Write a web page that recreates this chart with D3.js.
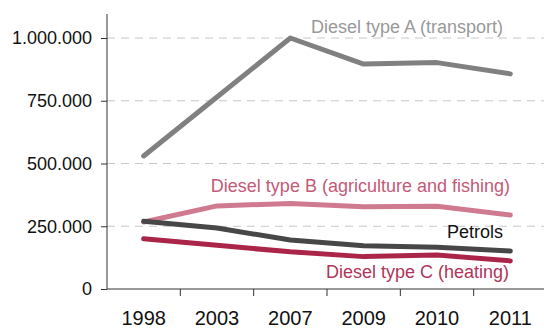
<!DOCTYPE html>
<html><head><meta charset="utf-8">
<script src="https://cdn.jsdelivr.net/npm/d3@7"></script>
<style>body{margin:0;background:#fff}svg{display:block;font-family:"Liberation Sans",Arial,sans-serif}</style>
</head><body><svg id="c" width="544" height="329"></svg>
<script>
const years = ["1998","2003","2007","2009","2010","2011"];
const dieselA = [530000, 765000, 1000000, 896000, 902000, 857000];
const dieselB = [267000, 331000, 341000, 328000, 330000, 295000];
const petrols = [270000, 243000, 195000, 172000, 166000, 151000];
const dieselC = [200000, 174000, 148000, 129000, 135000, 112000];
const yTicks = [0, 250000, 500000, 750000, 1000000];
const names = ["Diesel type A (transport)","Diesel type B (agriculture and fishing)","Petrols","Diesel type C (heating)"];

const svg = d3.select("#c");
const x = d3.scaleBand().domain(years).range([107, 547]);
const y = d3.scaleLinear().domain([0, 1000000]).range([289, 38]);
const fmt = v => d3.format(",")(v).replace(/,/g, ".");

// grid
svg.append("g").selectAll("line").data(yTicks.filter(d => d > 0)).join("line")
  .attr("x1", 107).attr("x2", 544).attr("y1", d => y(d)).attr("y2", d => y(d))
  .attr("stroke", "#c8c8c8").attr("stroke-dasharray", "8,6");

// y axis
const ya = svg.append("g").attr("transform", "translate(107,0)")
  .call(d3.axisLeft(y).tickValues(yTicks).tickFormat(fmt).tickSize(6).tickPadding(9));
ya.select(".domain").attr("d", "M0,14V289").attr("stroke", "#333");
ya.selectAll("line").attr("stroke", "#333");
ya.selectAll("text").attr("font-size", 18).attr("fill", "#111").attr("font-family", "Liberation Sans, Arial, sans-serif");

// x axis
const xa = svg.append("g").attr("transform", "translate(0,289)")
  .call(d3.axisBottom(x).tickSize(0).tickPadding(0));
xa.select(".domain").attr("d", "M107,0H547").attr("stroke", "#333");
xa.selectAll("text").attr("font-size", 20).attr("fill", "#111").attr("dy", 0).attr("y", 36)
  .attr("font-family", "Liberation Sans, Arial, sans-serif");
svg.append("g").selectAll("line").data(years.slice(1).concat(["end"])).join("line")
  .attr("x1", (d, i) => x.range()[0] + x.bandwidth() * (i + 1))
  .attr("x2", (d, i) => x.range()[0] + x.bandwidth() * (i + 1))
  .attr("y1", 289).attr("y2", 296).attr("stroke", "#333");

const line = d3.line().x((d, i) => x(years[i]) + x.bandwidth() / 2).y(d => y(d));
const series = [
  {v: dieselA, c: "#808080"},
  {v: dieselB, c: "#d07a90"},
  {v: petrols, c: "#474747"},
  {v: dieselC, c: "#ab2548"}
];
svg.append("g").selectAll("path").data(series).join("path")
  .attr("d", d => line(d.v)).attr("fill", "none").attr("stroke", d => d.c)
  .attr("stroke-width", 5).attr("stroke-linecap", "round").attr("stroke-linejoin", "round");

const labels = [
  {t: names[0], x: 503, y: 33, c: "#999"},
  {t: names[1], x: 510, y: 192, c: "#c45a77"},
  {t: names[2], x: 503, y: 238, c: "#111"},
  {t: names[3], x: 509, y: 278, c: "#b0355a"}
];
svg.append("g").selectAll("text").data(labels).join("text")
  .attr("x", d => d.x).attr("y", d => d.y).attr("text-anchor", "end")
  .attr("font-size", 18).attr("fill", d => d.c).text(d => d.t);
</script></body></html>
